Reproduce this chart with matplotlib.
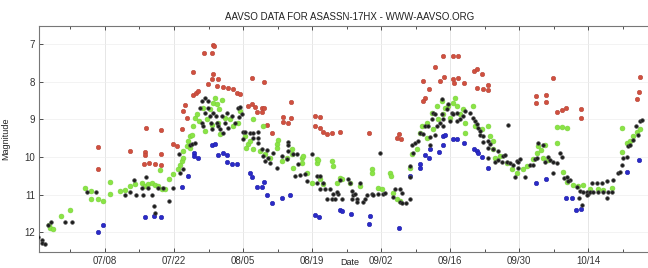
import numpy as np
import matplotlib
matplotlib.use("Agg")
import matplotlib.pyplot as plt
import matplotlib.dates as mdates
from datetime import datetime, timedelta

# ---- DATA : days after 2017-07-01, magnitude
red_day = [5.6, 5.6, 12.1, 14.9, 15.3, 15.1, 15.1, 15.9, 17.1, 18.4, 18.4, 18.4, 20.8, 21.6, 22.6, 22.8,
           23.2, 23.6, 24.9, 25.5, 25.9, 24.9, 27.1, 28.7, 28.9, 29.1, 27.9, 28.7, 28.9, 29.9, 29.7, 30.9,
           32.0, 33.0, 33.8, 34.4, 36.8, 39.2, 36.0, 36.8, 37.4, 38.8, 39.2, 37.8, 38.8, 39.9, 40.9, 43.1,
           43.1, 44.1, 44.7, 44.7, 49.6, 50.6, 49.6, 50.6, 51.2, 52.0, 53.0, 54.7, 60.5, 66.2, 66.6, 67.0,
           71.5, 72.7, 71.9, 71.5, 73.9, 75.5, 77.6, 78.6, 74.9, 75.8, 77.6, 78.6, 77.8, 79.8, 81.8, 82.4,
           83.5, 82.4, 83.7, 84.7, 84.7, 94.4, 94.4, 96.4, 96.4, 97.9, 98.7, 99.7, 100.5, 103.5, 103.5,
           115.5, 115.3, 114.9]
red_mag = [9.73, 10.32, 9.84, 10.18, 9.23, 9.86, 9.94, 10.16, 10.18, 9.28, 9.92, 10.21, 9.65, 9.70, 9.25, 8.77,
           8.61, 8.96, 8.35, 8.30, 8.24, 7.74, 7.23, 7.23, 7.02, 7.05, 8.06, 7.92, 7.79, 7.92, 8.11, 8.14,
           8.16, 8.19, 8.30, 8.32, 7.90, 8.00, 8.64, 8.59, 8.67, 8.69, 8.69, 8.80, 8.80, 9.15, 9.36, 8.93,
           9.07, 9.09, 8.96, 8.53, 8.91, 8.93, 9.17, 9.23, 9.33, 9.39, 9.36, 9.33, 9.36, 9.49, 9.39, 9.52,
           7.98, 8.19, 8.43, 8.51, 7.60, 7.31, 7.31, 7.31, 7.98, 7.87, 7.92, 7.90, 8.03, 8.03, 7.71, 7.66,
           7.79, 8.16, 8.19, 8.22, 8.08, 8.38, 8.56, 8.35, 8.53, 7.90, 8.80, 8.75, 8.69, 8.72, 8.96,
           7.87, 8.27, 8.45]

blue_day = [5.6, 6.6, 15.1, 16.9, 18.4, 22.6, 23.8, 25.1, 25.1, 25.9, 28.7, 29.3, 29.9, 30.9, 31.7, 31.7,
            32.8, 33.8, 36.4, 36.8, 39.2, 37.8, 38.8, 39.9, 40.9, 42.9, 44.5, 49.6, 50.4, 54.7, 55.1, 56.9,
            60.7, 60.5, 66.6, 68.9, 70.9, 70.9, 71.9, 72.7, 72.9, 74.7, 75.5, 75.5, 76.0, 77.6, 78.4, 79.8,
            81.8, 82.4, 82.6, 83.5, 84.7, 94.4, 96.4, 100.5, 101.7, 102.5, 103.5, 112.9, 115.3]
blue_mag = [11.99, 11.81, 11.59, 11.57, 11.59, 10.80, 10.50, 9.89, 9.97, 10.02, 9.68, 9.65, 9.94, 9.89, 9.94, 10.13,
            10.18, 10.18, 10.42, 10.53, 10.66, 10.80, 10.80, 11.01, 11.22, 11.09, 11.01, 11.54, 11.59, 11.41, 11.43, 11.51,
            11.57, 11.78, 11.89, 10.50, 10.18, 10.29, 9.94, 10.02, 9.78, 9.86, 9.68, 9.44, 9.41, 9.52, 9.52, 9.62,
            9.78, 9.84, 9.89, 10.00, 10.29, 10.69, 10.58, 11.09, 11.09, 11.41, 11.38, 10.40, 10.08]

green_day = [-4.4, -4.1, -3.5, -1.9, -0.1, 2.9, 4.2, 5.6, 6.6, 4.2, 8.0, 8.0, 10.0, 11.1, 12.1, 13.1,
             14.5, 15.1, 15.7, 16.5, 17.1, 17.8, 18.2, 18.6, 19.2, 20.0, 20.8, 21.8, 22.2, 22.6, 22.8, 22.8,
             23.6, 23.8, 24.2, 24.2, 24.6, 24.9, 25.3, 25.7, 26.1, 26.9, 27.7, 28.3, 28.9, 29.3, 29.7, 30.1,
             29.9, 30.3, 31.3, 32.4, 33.0, 34.0, 34.4, 35.4, 36.0, 36.4, 37.0, 37.0, 38.4, 39.0, 39.5, 40.5,
             41.9, 41.9, 42.9, 43.9, 44.9, 44.9, 45.1, 47.0, 47.0, 48.0, 49.0, 50.0, 50.0, 50.6, 51.2, 53.0,
             53.2, 54.1, 54.7, 55.1, 56.7, 58.7, 61.1, 61.1, 62.4, 63.2, 64.8, 65.0, 65.4, 66.2, 66.8, 68.9,
             69.3, 70.3, 70.9, 71.3, 72.3, 72.3, 73.3, 73.5, 74.3, 74.5, 75.3, 75.5, 76.0, 76.6, 77.0, 77.6,
             78.4, 79.0, 79.6, 80.0, 80.0, 81.6, 82.0, 83.5, 84.7, 85.1, 85.7, 85.7, 86.1, 87.1, 88.5, 89.5,
             90.6, 91.8, 92.6, 93.8, 94.6, 94.8, 95.4, 95.8, 96.2, 96.8, 98.7, 99.9, 100.7, 101.9, 102.9, 103.9,
             105.4, 107.0, 108.0, 109.8, 111.9, 112.9, 113.5, 114.1, 114.9, 115.5, 98.7, 99.7, 100.7, 111.9,
             27.3, 28.7, 30.7, 35.6, 42.1, 47.2, 50.2, 78.0]
green_mag = [11.81, 11.89, 11.91, 11.57, 11.41, 10.82, 11.11, 11.11, 11.17, 10.90, 10.66, 10.98, 10.90, 10.88, 10.77, 10.72,
             10.69, 10.77, 10.72, 10.69, 10.74, 10.77, 10.34, 10.85, 10.85, 10.58, 10.45, 10.32, 10.21, 10.10, 10.02, 9.84,
             9.70, 9.57, 9.76, 9.44, 9.41, 9.17, 8.96, 8.85, 9.04, 8.69, 8.99, 8.72, 8.56, 8.43, 8.59, 8.72,
             9.09, 9.39, 8.96, 8.99, 9.17, 9.09, 8.77, 9.44, 9.65, 9.57, 8.99, 9.78, 9.84, 9.17, 9.92, 10.02,
             9.65, 9.76, 10.10, 10.02, 9.78, 9.92, 10.29, 10.02, 10.16, 10.42, 10.69, 10.05, 10.16, 10.58, 10.72, 10.10,
             10.24, 10.69, 10.56, 10.58, 10.69, 10.77, 10.32, 10.42, 10.82, 10.85, 10.42, 10.50, 10.95, 11.11, 11.17, 10.29,
             9.92, 9.78, 9.36, 9.17, 9.09, 9.49, 8.83, 9.25, 8.64, 8.99, 8.51, 8.85, 8.69, 8.64, 8.96, 8.56,
             8.64, 8.85, 8.72, 9.09, 9.36, 8.64, 9.17, 9.25, 9.17, 9.44, 9.57, 9.78, 10.02, 9.97, 10.16, 10.32,
             10.42, 10.32, 10.24, 10.05, 9.89, 9.70, 9.81, 10.02, 9.68, 10.08, 9.62, 10.40, 10.66, 10.74, 10.77, 10.74,
             10.85, 10.85, 10.88, 10.82, 9.86, 9.62, 9.57, 9.44, 9.33, 9.25, 9.20, 9.20, 9.23, 9.23,
             9.31, 9.15, 8.48, 9.76, 9.55, 9.97, 10.08, 8.43]

black_day = [-6.6, -5.8, -5.8, -5.2, -4.6, -4.0, -1.1, 0.3, 3.4, 5.2, 11.1, 12.1, 12.9, 13.3, 14.5, 14.7,
             15.3, 15.7, 16.5, 16.9, 17.1, 17.8, 18.8, 20.0, 20.8, 22.0, 22.2, 22.8, 24.2, 24.6, 25.3, 26.3,
             26.7, 26.9, 27.3, 27.9, 28.3, 28.5, 28.7, 28.9, 29.5, 29.7, 29.9, 30.3, 30.7, 30.9, 31.3, 31.7,
             32.0, 32.8, 33.4, 34.0, 34.2, 26.7, 27.3, 27.9, 34.4, 34.8, 35.0, 35.4, 36.4, 37.0, 38.0, 37.0,
             38.0, 35.0, 38.0, 38.8, 39.9, 39.0, 40.1, 39.5, 40.5, 41.1, 41.9, 42.9, 44.1, 44.1, 44.1, 43.9,
             45.1, 45.9, 46.1, 45.5, 46.5, 47.6, 48.0, 49.0, 50.0, 50.6, 50.0, 51.2, 50.6, 51.6, 52.6, 53.2,
             54.3, 52.0, 53.0, 53.6, 54.1, 54.7, 55.1, 56.3, 56.7, 57.1, 57.3, 57.7, 57.1, 58.1, 58.1, 58.7,
             59.3, 59.7, 60.1, 61.1, 61.3, 62.4, 62.8, 63.4, 63.8, 65.4, 65.8, 66.8, 67.2, 66.8, 67.2, 68.0,
             68.9, 68.9, 68.9, 69.3, 69.5, 69.9, 70.5, 70.9, 71.5, 71.9, 72.5, 72.9, 72.9, 73.3, 73.5, 73.9,
             73.9, 74.3, 74.9, 75.3, 75.3, 75.5, 75.5, 76.4, 76.6, 77.0, 77.4, 77.6, 78.4, 78.4, 79.0, 79.6,
             80.0, 81.0, 81.6, 82.0, 82.4, 82.6, 83.1, 83.1, 83.7, 83.7, 84.7, 84.7, 84.7, 85.1, 85.7, 86.1,
             86.7, 86.7, 87.5, 87.7, 88.1, 88.5, 88.7, 89.1, 89.7, 90.6, 90.8, 90.8, 91.2, 90.2, 92.2, 93.2,
             93.8, 94.2, 94.6, 94.8, 95.8, 96.2, 96.8, 97.2, 97.9, 98.7, 99.3, 99.7, 97.9, 100.1, 100.7, 101.3,
             100.9, 102.7, 103.3, 103.9, 104.8, 105.0, 105.4, 106.0, 107.0, 108.0, 109.0, 109.8, 104.8, 105.8, 106.8, 107.8,
             108.8, 110.0, 108.8, 103.7, 103.1, 111.0, 111.4, 111.9, 112.1, 112.9, 113.1, 113.5, 114.1, 114.7, 115.1, 115.5,
             115.9]
black_mag = [12.12, 12.20, 12.28, 12.31, 11.81, 11.73, 11.73, 11.73, 10.93, 10.93, 11.01, 10.93, 10.61, 11.01, 10.82, 11.01,
             10.53, 10.82, 11.01, 11.30, 11.49, 10.82, 10.82, 11.17, 10.82, 9.92, 10.42, 10.32, 9.68, 9.65, 9.62, 8.69,
             9.09, 9.17, 8.83, 8.69, 8.91, 9.09, 9.25, 8.83, 8.91, 9.09, 9.17, 9.25, 8.91, 9.36, 9.09, 8.83,
             9.23, 8.91, 9.09, 8.69, 8.93, 8.51, 8.43, 8.51, 8.67, 8.85, 9.33, 9.33, 9.36, 9.36, 9.33, 9.49,
             9.49, 9.52, 9.62, 9.78, 9.81, 9.97, 10.02, 10.10, 10.16, 9.89, 10.29, 9.97, 9.60, 9.68, 9.84, 10.05,
             9.92, 9.92, 10.18, 10.50, 10.48, 10.45, 10.64, 9.92, 10.50, 10.50, 10.69, 10.69, 10.85, 10.85, 10.85, 10.98,
             10.98, 11.11, 11.11, 11.11, 10.93, 10.61, 11.11, 10.58, 10.69, 10.90, 11.01, 10.98, 11.11, 11.11, 11.19, 10.69,
             11.19, 11.11, 11.01, 10.98, 11.01, 10.98, 9.89, 10.98, 10.95, 11.06, 10.85, 10.85, 10.95, 11.19, 11.22, 11.22,
             11.11, 10.53, 10.24, 9.68, 9.89, 9.62, 9.57, 9.36, 9.39, 9.17, 9.17, 9.68, 9.47, 8.99, 8.83, 8.85,
             9.41, 9.17, 9.09, 8.85, 8.45, 8.99, 9.17, 8.72, 8.59, 9.04, 8.83, 8.85, 9.04, 8.83, 8.99, 8.91,
             8.77, 8.83, 8.96, 9.04, 9.12, 9.23, 9.31, 9.41, 9.44, 9.60, 9.57, 9.76, 10.02, 9.65, 9.78, 10.13,
             9.84, 10.08, 10.13, 9.97, 9.94, 10.13, 9.15, 10.16, 10.21, 10.10, 10.29, 10.13, 10.05, 10.53, 10.53, 10.21,
             10.21, 10.05, 10.02, 9.62, 9.68, 10.13, 10.00, 10.08, 10.13, 10.16, 9.89, 10.00, 10.42, 10.56, 10.53, 10.61,
             10.64, 10.80, 10.90, 10.93, 10.93, 10.98, 10.93, 10.93, 10.93, 10.93, 10.93, 10.93, 11.01, 10.69, 10.69, 10.69,
             10.64, 10.61, 11.09, 11.27, 11.09, 10.42, 10.40, 10.21, 10.02, 10.00, 9.70, 9.68, 9.55, 9.17, 9.41, 9.04,
             9.01]

xtick_labels = ["07/08", "07/22", "08/05", "08/19", "09/02", "09/16", "09/30", "10/14"]
ytick_vals = [7, 8, 9, 10, 11, 12]

# ---- helpers
t0 = mdates.date2num(datetime(2017, 7, 1))


def to_num(days):
    return t0 + np.asarray(days, dtype=float)


fig = plt.figure(figsize=(6.48, 2.68), dpi=100)
ax = fig.add_axes([0.0606, 0.061, 0.958, 0.842])

ms = 3.2
ax.plot(to_num(red_day), red_mag, 'o', ms=ms, color='#d0503f', mec='#b8463a', mew=0.4, zorder=3)
ax.plot(to_num(blue_day), blue_mag, 'o', ms=ms, color='#2a2ac8', mec='#2020a8', mew=0.4, zorder=3)
ax.plot(to_num(green_day), green_mag, 'o', ms=3.5, color='#8ae445', mec='#78d23a', mew=0.4, zorder=4)
ax.plot(to_num(black_day), black_mag, 'o', ms=2.7, color='#1e1e1e', mec='#555555', mew=0.4, zorder=5)

# ---- axes
ax.set_xlim(t0 - 6.32, t0 + 119.55)
ax.set_ylim(12.516, 6.513)

tick_pos = [mdates.date2num(datetime(2017, int(s[:2]), int(s[3:]))) for s in xtick_labels]
ax.set_xticks(tick_pos)
ax.set_xticklabels(xtick_labels)
ax.set_xticks([p + 7 for p in tick_pos] + [tick_pos[0] - 7], minor=True)
ax.set_yticks(ytick_vals)
ax.set_yticklabels([str(v) for v in ytick_vals])

ax.tick_params(axis='both', which='both', direction='in', top=True, right=True,
               labelsize=7, colors='#333333', length=3, width=0.6, pad=3)
ax.tick_params(axis='both', which='minor', length=2)
for lab in ax.get_xticklabels() + ax.get_yticklabels():
    lab.set_family('Liberation Sans')

ax.grid(True, which='major', axis='x', color='#e2e2e2', lw=0.6)
ax.grid(True, which='major', axis='y', color='#eeeeee', lw=0.5)
ax.set_axisbelow(True)
for s in ax.spines.values():
    s.set_color('#777777')
    s.set_linewidth(0.8)

ax.set_title("AAVSO DATA FOR ASASSN-17HX - WWW-AAVSO.ORG", fontsize=7, family='Liberation Sans',
             color='#222222', pad=4)
ax.set_xlabel("Date", fontsize=6.5, family='Liberation Sans', color='#222222')
ax.xaxis.set_label_coords(0.5, -0.03)
ax.set_ylabel("Magnitude", fontsize=6.5, family='Liberation Sans', color='#222222', labelpad=10)

fig.savefig("out.png", dpi=100)
